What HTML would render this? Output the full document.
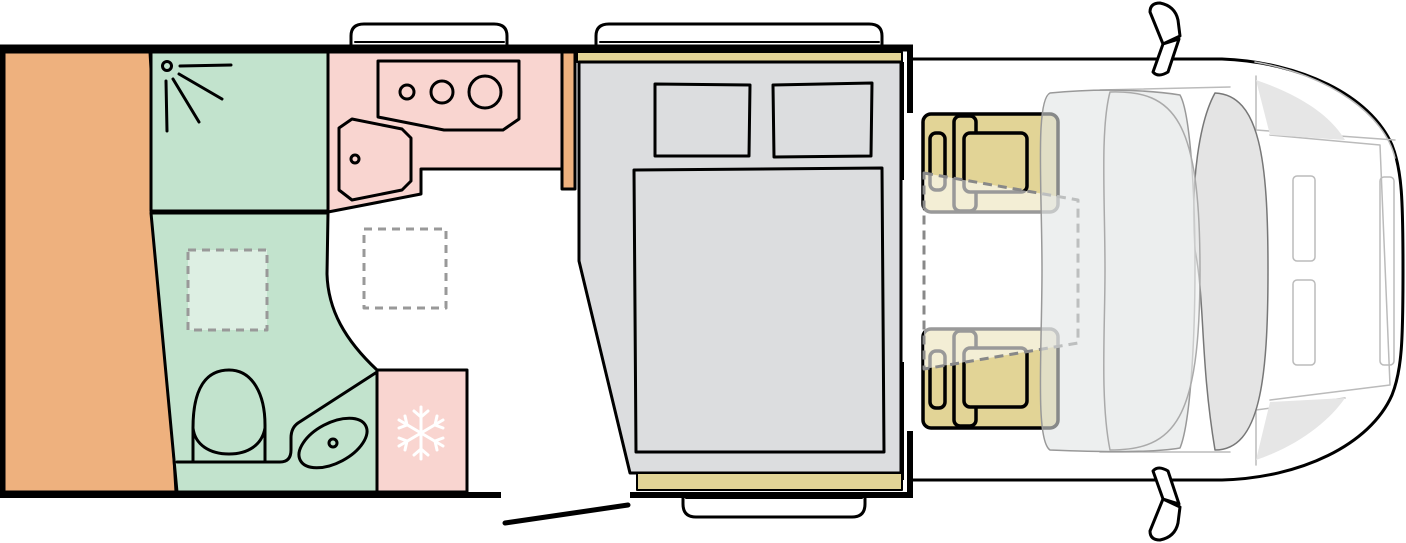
<!DOCTYPE html>
<html><head><meta charset="utf-8"><style>html,body{margin:0;padding:0;background:#fff}svg{display:block}</style></head>
<body>
<svg width="1406" height="543" viewBox="0 0 1406 543" xmlns="http://www.w3.org/2000/svg" stroke-linejoin="round" stroke-linecap="round">
<!-- cab outline -->
<path d="M913,59 L1222,59 C1300,62 1370,95 1392,145 C1402,170 1403,200 1403,270 C1403,340 1402,370 1392,395 C1370,445 1300,478 1222,480 L913,480" fill="#fff" stroke="#000" stroke-width="3"/>
<g fill="none" stroke="#bbb" stroke-width="1.5">
<path d="M1255,62 C1330,75 1385,115 1395,158"/>
<path d="M1256,76 L1256,130 L1395,140"/>
<path d="M1256,465 L1256,410 L1345,398"/>
<path d="M1270,135 L1380,145 L1390,385 L1270,400"/>
<rect x="1293" y="176" width="22" height="85" rx="4"/>
<rect x="1293" y="280" width="22" height="85" rx="4"/>
<rect x="1380" y="177" width="14" height="188" rx="4"/>
<path d="M1100,90 L1230,87 M1100,452 L1230,452"/>
</g>
<path d="M1256,80 C1300,95 1330,115 1345,140 L1270,135 Z" fill="#e6e6e6"/>
<path d="M1256,460 C1300,445 1330,420 1345,398 L1270,402 Z" fill="#e6e6e6"/>
<!-- windshield -->
<path d="M1215,93 C1260,95 1268,160 1268,270 C1268,380 1260,450 1215,450 C1200,360 1205,300 1195,250 C1190,180 1200,120 1215,93 Z" fill="#e4e4e4" stroke="#777" stroke-width="1.5"/>
<!-- seats -->
<g stroke="#000" stroke-width="3.5" fill="#e2d496">
<rect x="923" y="114" width="135" height="98" rx="8"/>
<rect x="930" y="133" width="15" height="57" rx="6"/>
<rect x="954" y="116" width="22" height="95" rx="6"/>
<rect x="964" y="133" width="63" height="59" rx="6"/>
<rect x="923" y="329" width="135" height="99" rx="8"/>
<rect x="930" y="351" width="15" height="57" rx="6"/>
<rect x="954" y="331" width="22" height="95" rx="6"/>
<rect x="964" y="348" width="63" height="59" rx="6"/>
</g>
<!-- dashed table area -->
<path d="M924,173 L1078,200 L1078,343 L924,369 Z" fill="rgba(255,255,255,0.6)" stroke="#888" stroke-width="3" stroke-dasharray="9,6" stroke-linecap="butt"/>
<!-- dashboard overlay -->
<path d="M1050,93 C1100,88 1150,90 1180,95 C1200,130 1200,400 1180,448 C1150,453 1100,452 1050,450 C1035,440 1042,350 1042,270 C1042,190 1035,100 1050,93 Z" fill="rgba(225,228,228,0.6)" stroke="#999" stroke-width="1.5"/>
<path d="M1110,92 C1175,90 1200,120 1200,270 C1200,420 1175,450 1110,450 C1100,400 1105,330 1105,270 C1105,200 1100,130 1110,92 Z" fill="rgba(235,237,237,0.6)" stroke="#aaa" stroke-width="1.5"/>
<!-- mirrors -->
<g fill="#fff" stroke="#000" stroke-width="3">
<path d="M1150,12 Q1150,3 1160,3 Q1175,6 1178,20 L1180,36 L1163,44 Z"/>
<path d="M1163,44 L1179,39 L1168,72 Q1158,78 1153,72 Z"/>
<path d="M1150,531 Q1150,540 1160,540 Q1175,537 1178,523 L1180,507 L1163,499 Z"/>
<path d="M1163,499 L1179,504 L1168,471 Q1158,465 1153,471 Z"/>
</g>
<!-- windows -->
<g fill="#fff" stroke="#000" stroke-width="3">
<path d="M351,46 L351,36 Q351,24 364,24 L494,24 Q507,24 507,36 L507,46"/>
<path d="M596,46 L596,36 Q596,24 609,24 L869,24 Q882,24 882,36 L882,46"/>
<path d="M683,494 L683,504 Q683,517 696,517 L852,517 Q865,517 865,504 L865,494"/>
</g>
<line x1="355" y1="42" x2="504" y2="42" stroke="#000" stroke-width="2"/>
<line x1="600" y1="42" x2="879" y2="42" stroke="#000" stroke-width="2"/>
<line x1="686" y1="498" x2="862" y2="498" stroke="#000" stroke-width="2"/>
<!-- orange -->
<path d="M4,52 L150,52 L176,492 L4,492 Z" fill="#eeb17e" stroke="#000" stroke-width="3"/>
<!-- shower -->
<rect x="151" y="52" width="177" height="159" fill="#c2e3cd" stroke="#000" stroke-width="3"/>
<g stroke="#000" stroke-width="3" fill="none">
<circle cx="167" cy="66" r="4.5"/>
<line x1="180" y1="66" x2="231" y2="65"/>
<line x1="179" y1="74" x2="222" y2="99"/>
<line x1="173" y1="79" x2="199" y2="122"/>
<line x1="166" y1="81" x2="167" y2="131"/>
</g>
<!-- bathroom -->
<path d="M151,213 L328,213 L327,274 C328,310 345,340 377,370 L377,492 L177,492 Z" fill="#c2e3cd" stroke="#000" stroke-width="3"/>
<rect x="188" y="250" width="79" height="80" fill="#ddefe3" stroke="#999" stroke-width="3" stroke-dasharray="8,6" stroke-linecap="butt"/>
<g stroke="#000" stroke-width="3" fill="none">
<path d="M193,461 L193,428 C193,390 205,370 229,370 C253,370 265,395 265,425 L265,461"/>
<path d="M193,428 C195,445 210,454 229,454 C248,454 262,445 265,428"/>
<path d="M177,462 L280,462 Q291,462 291,450 L291,438 Q291,428 298,423 L377,372"/>
<ellipse cx="333" cy="443" rx="37" ry="20" transform="rotate(-28 333 443)"/>
<circle cx="333" cy="443" r="4"/>
</g>
<!-- fridge -->
<rect x="377" y="370" width="90" height="122" fill="#f9d5d0" stroke="#000" stroke-width="3"/>
<g stroke="#fff" stroke-width="3" fill="none">
<line x1="421" y1="407" x2="421" y2="459"/>
<line x1="399" y1="420" x2="443" y2="446"/>
<line x1="399" y1="446" x2="443" y2="420"/>
<path d="M414,411 L421,417 L428,411 M414,455 L421,449 L428,455"/>
<path d="M399,428 L407,425 L405,416 M443,438 L435,441 L437,450"/>
<path d="M399,438 L407,441 L405,450 M443,428 L435,425 L437,416"/>
</g>
<!-- kitchen -->
<path d="M328,52 L562,52 L562,169 L421,169 L421,194 L328,212 Z" fill="#f9d5d0" stroke="#000" stroke-width="3"/>
<path d="M378,61 L519,61 L519,119 L503,130 L444,130 L378,117 Z" fill="#f9d5d0" stroke="#000" stroke-width="3"/>
<g stroke="#000" stroke-width="3" fill="none">
<circle cx="407" cy="92" r="7"/>
<circle cx="442" cy="92" r="11"/>
<circle cx="485" cy="92" r="16"/>
<path d="M352,119 L402,129 L411,138 L411,181 L402,190 L352,200 L339,190 L339,128 Z"/>
<circle cx="355" cy="159" r="4"/>
</g>
<rect x="562" y="52" width="13" height="137" fill="#eeb17e" stroke="#000" stroke-width="3"/>
<!-- floor dashed -->
<rect x="364" y="229" width="82" height="79" fill="none" stroke="#999" stroke-width="3" stroke-dasharray="8,6" stroke-linecap="butt"/>
<!-- bed -->
<rect x="577" y="52" width="325" height="10" fill="#e2d496" stroke="#000" stroke-width="2"/>
<path d="M579,62 L901,62 L901,473 L630,473 L579,261 Z" fill="#dcdddf" stroke="#000" stroke-width="3"/>
<rect x="637" y="473" width="265" height="17" fill="#e2d496" stroke="#000" stroke-width="2"/>
<g stroke="#000" stroke-width="3" fill="none">
<path d="M655,84 L750,85 L749,156 L655,156 Z"/>
<path d="M773,85 L872,83 L871,156 L774,157 Z"/>
<path d="M634,170 L882,168 L884,452 L636,452 Z"/>
</g>
<!-- walls -->
<g stroke="#000" fill="none" stroke-linecap="butt">
<line x1="0" y1="48" x2="913" y2="48" stroke-width="7"/>
<line x1="2" y1="45" x2="2" y2="498" stroke-width="5"/>
<line x1="0" y1="495" x2="501" y2="495" stroke-width="6"/>
<line x1="630" y1="495" x2="913" y2="495" stroke-width="6"/>
<line x1="910" y1="45" x2="910" y2="113" stroke-width="6"/>
<line x1="910" y1="431" x2="910" y2="498" stroke-width="6"/>
<line x1="903" y1="62" x2="903" y2="180" stroke-width="2"/>
<line x1="903" y1="362" x2="903" y2="480" stroke-width="2"/>
<line x1="505" y1="523" x2="628" y2="505" stroke-width="5" stroke-linecap="round"/>
</g>
</svg>
</body></html>
